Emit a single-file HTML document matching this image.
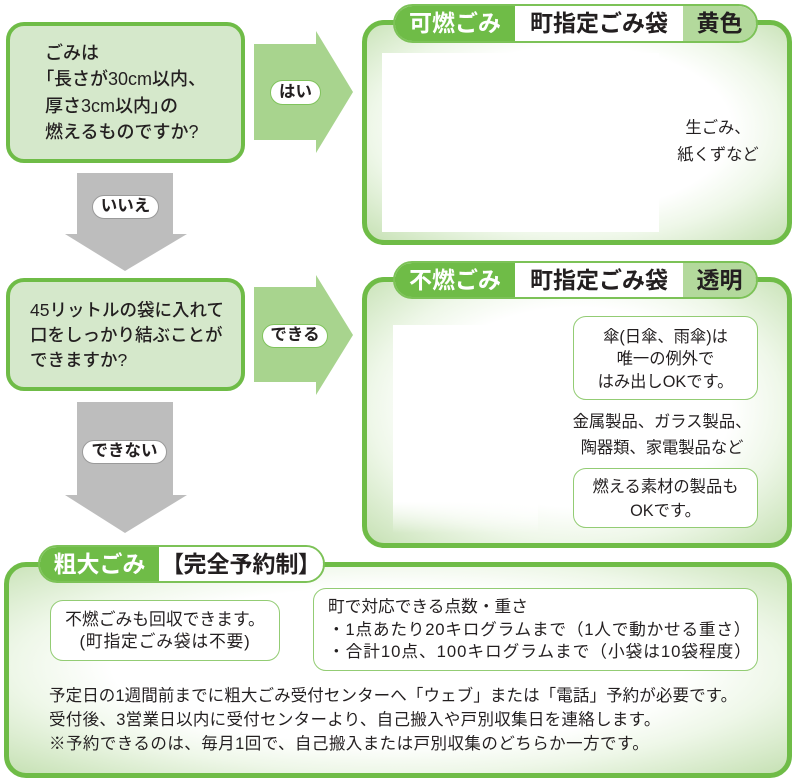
<!DOCTYPE html>
<html lang="ja">
<head>
<meta charset="utf-8">
<style>
html,body{margin:0;padding:0;}
body{width:801px;height:784px;position:relative;overflow:hidden;background:#fff;
font-family:"Liberation Sans","Noto Sans CJK JP",sans-serif;color:#231f20;}
.a{position:absolute;}
.q{position:absolute;background:#d5e8cb;border:4px solid #6fbc47;border-radius:18px;box-sizing:border-box;}
.qt{position:absolute;font-size:18px;font-weight:500;white-space:nowrap;}
.box{position:absolute;border:5px solid #6fbc47;border-radius:22px;box-sizing:border-box;
background:radial-gradient(ellipse farthest-corner at 50% 48%,#ffffff 52%,#eef7e8 70%,#c6e1b4 100%);}
.tab{position:absolute;border:2px solid #7cc257;border-radius:20px;box-sizing:border-box;overflow:hidden;display:flex;
font-size:23px;font-weight:bold;white-space:nowrap;}
.tab div{text-align:center;}
.tg{background:#6fbc47;color:#fff;}
.tw{background:#fff;color:#231f20;}
.tl{background:#b3d99c;color:#231f20;flex:1;}
.pill{position:absolute;background:#fff;border-radius:13px;box-sizing:border-box;text-align:center;
font-size:16.5px;font-weight:bold;white-space:nowrap;}
.pg{border:1.5px solid #80c35d;}
.pk{border:1.5px solid #9a9a9a;}
.bub{position:absolute;background:#fff;border:1.5px solid #93cc74;border-radius:13px;box-sizing:border-box;}
.t16{position:absolute;font-size:16.3px;white-space:nowrap;}
.c{text-align:center;}
.p{font-feature-settings:"palt";}
</style>
</head>
<body>

<svg class="a" style="left:0;top:0" width="801" height="784">
  <polygon points="254,44 316,44 316,31 353,92 316,153 316,140 254,140" fill="#a8d48e"/>
  <polygon points="254,287 316,287 316,275 353,335 316,395 316,382 254,382" fill="#a8d48e"/>
  <polygon points="77,173 173,173 173,234 187,234 125,271 65,234 77,234" fill="#bdbdbd"/>
  <polygon points="77,402 173,402 173,495 187,495 125,533 65,495 77,495" fill="#bdbdbd"/>
</svg>

<!-- Question 1 -->
<div class="q" style="left:6px;top:22px;width:239px;height:141px;"></div>
<div class="qt" style="left:45px;top:39.5px;line-height:26.5px;">ごみは<br><span class="p">「</span>長さが30cm以内、<br>厚さ3cm以内<span class="p">」</span>の<br>燃えるものですか?</div>

<!-- Question 2 -->
<div class="q" style="left:6px;top:278px;width:239px;height:113px;"></div>
<div class="qt" style="left:30px;top:297.5px;line-height:25px;font-size:17.5px;">45リットルの袋に入れて<br>口をしっかり結ぶことが<br>できますか?</div>

<!-- pills -->
<div class="pill pg" style="left:270px;top:80px;width:51px;height:25px;line-height:22px;">はい</div>
<div class="pill pk" style="left:92px;top:195px;width:67px;height:24px;line-height:21px;">いいえ</div>
<div class="pill pg" style="left:262px;top:324px;width:66px;height:24px;line-height:21px;">できる</div>
<div class="pill pk" style="left:82px;top:440px;width:85px;height:24px;line-height:21px;">できない</div>

<!-- Result box 1 -->
<div class="box" style="left:362px;top:20px;width:430px;height:225px;"></div>
<div class="a" style="left:382px;top:53px;width:277px;height:179px;background:#fff;"></div>
<div class="t16 c" style="left:660px;top:114.5px;width:116px;line-height:27px;">生ごみ、<br>紙くずなど</div>
<div class="tab" style="left:393px;top:4px;width:365px;height:39px;line-height:35px;">
  <div class="tg" style="width:120px;">可燃ごみ</div>
  <div class="tw" style="width:168px;">町指定ごみ袋</div>
  <div class="tl">黄色</div>
</div>

<!-- Result box 2 -->
<div class="box" style="left:362px;top:277px;width:430px;height:271px;"></div>
<div class="a" style="left:393px;top:325px;width:145px;height:208px;background:linear-gradient(to bottom,#fff 85%,rgba(255,255,255,0) 100%);"></div>
<div class="tab" style="left:393px;top:261px;width:365px;height:38px;line-height:34px;">
  <div class="tg" style="width:120px;">不燃ごみ</div>
  <div class="tw" style="width:168px;">町指定ごみ袋</div>
  <div class="tl">透明</div>
</div>
<div class="bub" style="left:573px;top:316px;width:185px;height:84px;"></div>
<div class="t16 c" style="left:573px;top:325.5px;width:185px;line-height:22.5px;">傘(日傘、雨傘)は<br>唯一の例外で<br>はみ出しOKです。</div>
<div class="t16 c" style="left:562px;top:409px;width:200px;line-height:26px;">金属製品、ガラス製品、<br>陶器類、家電製品など</div>
<div class="bub" style="left:573px;top:468px;width:185px;height:60px;"></div>
<div class="t16 c" style="left:573px;top:475px;width:185px;line-height:24px;">燃える素材の製品も<br>OKです。</div>

<!-- Bottom box -->
<div class="box" style="left:4px;top:562px;width:788px;height:216px;"></div>
<div class="tab" style="left:38px;top:545px;width:287px;height:38px;line-height:34px;">
  <div class="tg" style="width:119px;">粗大ごみ</div>
  <div class="tw" style="flex:1;"><span class="p">【</span>完全予約制<span class="p">】</span></div>
</div>
<div class="bub" style="left:50px;top:600px;width:230px;height:61px;"></div>
<div class="t16 c" style="left:50px;top:609px;width:230px;line-height:22px;font-size:16.8px;">不燃ごみも回収できます。<br><span style="letter-spacing:0.8px">(町指定ごみ袋は不要)</span></div>
<div class="bub" style="left:313px;top:588px;width:445px;height:83px;"></div>
<div class="t16" style="left:328px;top:596px;line-height:22.5px;font-size:16.7px;">町で対応できる点数・重さ<br><span style="letter-spacing:0.75px">・1点あたり20キログラムまで（1人で動かせる重さ）</span><br><span style="letter-spacing:0.95px">・合計10点、100キログラムまで（小袋は10袋程度）</span></div>

<div class="t16" style="left:49px;top:683.5px;line-height:24px;font-size:16.5px;">
<span style="letter-spacing:0.1px">予定日の1週間前までに粗大ごみ受付センターへ「ウェブ」または「電話」予約が必要です。</span><br>
<span style="letter-spacing:0.3px">受付後、3営業日以内に受付センターより、自己搬入や戸別収集日を連絡します。</span><br>
<span style="letter-spacing:0.45px">※予約できるのは、毎月1回で、自己搬入または戸別収集のどちらか一方です。</span>
</div>

</body>
</html>
